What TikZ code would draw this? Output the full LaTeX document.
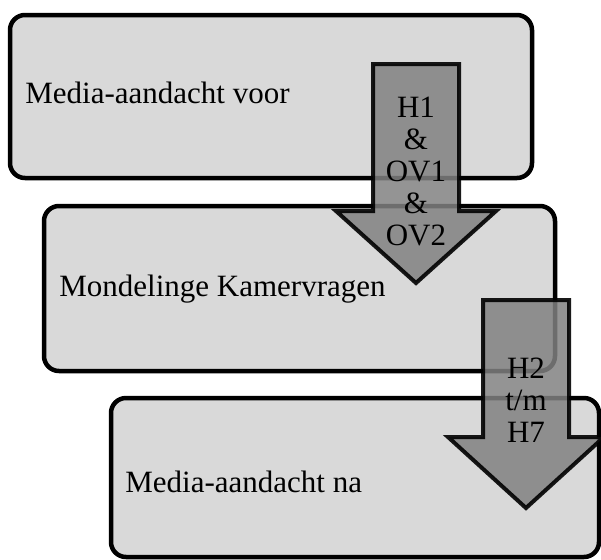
\documentclass[tikz,border=0pt]{standalone}
\usepackage{fontspec}
\setmainfont{Liberation Serif}
\definecolor{boxgray}{HTML}{D9D9D9}
\definecolor{arrowgray}{HTML}{818181}

\begin{document}
\begin{tikzpicture}[x=0.5pt, y=-0.5pt,
  box/.style={draw, line width=2.25pt, rounded corners=7.5pt, fill=boxgray, anchor=north west, outer sep=0pt, inner sep=0pt},
  boxtext/.style={anchor=base west, inner sep=0pt, font=\fontsize{15.5}{16}\selectfont},
  blockarrow/.style={draw=black, draw opacity=0.9, line width=2pt, fill=arrowgray, fill opacity=0.85},
  arrowtext/.style={align=center, inner sep=0pt, font=\fontsize{15.5}{16}\selectfont}]

\useasboundingbox (0,0) rectangle (601,559);

\node[box, minimum width=261pt, minimum height=81.5pt] (voor) at (10,15) {};
\node[box, minimum width=255.5pt, minimum height=82.5pt] (kamer) at (44,206) {};
\node[box, minimum width=244pt, minimum height=79.5pt] (na) at (111,398) {};

\node[boxtext] (voortext) at ([shift={(15,88)}]voor.north west) {Media-aandacht voor};
\node[boxtext] (kamertext) at ([shift={(15,90)}]kamer.north west) {Mondelinge Kamervragen};
\node[boxtext] (natext) at ([shift={(14,94)}]na.north west) {Media-aandacht na};

\draw[blockarrow] (373,64) -- (459,64) -- (459,211) -- (496,211) -- (416,283) -- (336,211) -- (373,211) -- cycle;
\node[arrowtext] (hyp1) at (416,171) {H1\\\&\\OV1\\\&\\OV2};

\draw[blockarrow] (483,300) -- (569,300) -- (569,437) -- (604,437) -- (526,508) -- (448,437) -- (483,437) -- cycle;
\node[arrowtext] (hyp2) at (526,400) {H2\\t/m\\H7};

\end{tikzpicture}
\end{document}
